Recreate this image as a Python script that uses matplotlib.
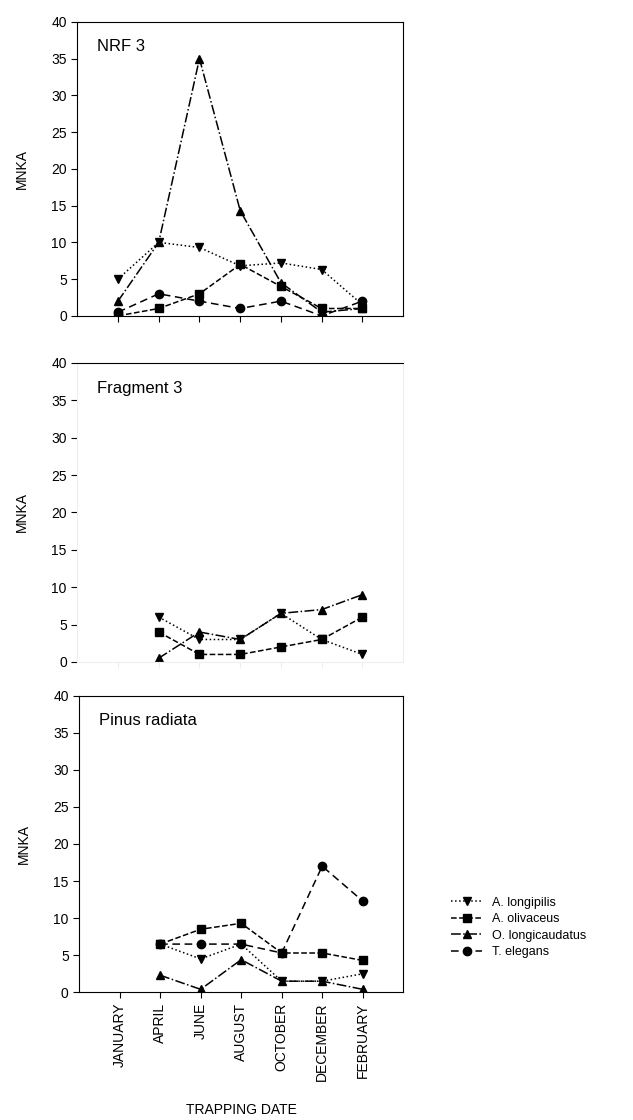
import numpy as np
import matplotlib
matplotlib.use("Agg")
import matplotlib.pyplot as plt

plt.rcParams['font.family'] = ['Liberation Sans', 'DejaVu Sans']

months = ["JANUARY", "APRIL", "JUNE", "AUGUST", "OCTOBER", "DECEMBER", "FEBRUARY"]
species = ["A. longipilis", "A. olivaceus", "O. longicaudatus", "T. elegans"]
nan = np.nan

# NRF 3
lon_nrf = [5, 10, 9.3, 6.8, 7.2, 6.3, 1.5]
oli_nrf = [0, 1, 3, 7, 4, 1, 1]
lcd_nrf = [2, 10, 35, 14.3, 4.5, 0.5, 1]
ele_nrf = [0.5, 3, 2, 1, 2, 0, 2]

# Fragment 3
lon_fr = [nan, 6, 3, 3, 6.5, 3, 1]
oli_fr = [nan, 4, 1, 1, 2, 3, 6]
lcd_fr = [nan, 0.5, 4, 3, 6.5, 7, 9]
ele_fr = [nan, nan, nan, nan, nan, nan, nan]

# Pinus radiata
lon_pr = [nan, 6.5, 4.5, 6.5, 1.5, 1.5, 2.5]
oli_pr = [nan, 6.5, 8.5, 9.3, 5.3, 5.3, 4.3]
lcd_pr = [nan, 2.3, 0.4, 4.4, 1.5, 1.5, 0.4]
ele_pr = [nan, 6.5, 6.5, 6.5, 5.3, 17, 12.3]

styles = [
    dict(marker="v", linestyle=":"),
    dict(marker="s", linestyle="--"),
    dict(marker="^", linestyle="-."),
    dict(marker="o", linestyle=(0, (5, 3))),
]

panels = [
    ("NRF 3", [lon_nrf, oli_nrf, lcd_nrf, ele_nrf], [0.122, 0.718, 0.515, 0.2625]),
    ("Fragment 3", [lon_fr, oli_fr, lcd_fr, ele_fr], [0.122, 0.409, 0.515, 0.267]),
    ("Pinus radiata", [lon_pr, oli_pr, lcd_pr, ele_pr], [0.125, 0.114, 0.512, 0.265]),
]

fig = plt.figure(figsize=(6.33, 11.2), dpi=100)
x = np.arange(len(months))
handles = []
for i, (title, series, rect) in enumerate(panels):
    ax = fig.add_axes(rect)
    for j, vals in enumerate(series):
        h, = ax.plot(x, vals, color="black", lw=1.1, ms=6, **styles[j], label=species[j])
        if i == 0:
            handles.append(h)
    ax.set_xlim(-1, 7)
    ax.set_ylim(0, 40)
    ax.set_yticks(np.arange(0, 41, 5))
    ax.set_xticks(x)
    ax.tick_params(labelsize=10, length=4, direction="out")
    ax.set_ylabel("MNKA", fontsize=10, labelpad=16)
    ax.text(0.06, 0.9, title, transform=ax.transAxes, fontsize=12)
    if i < 2:
        ax.set_xticklabels([])
    else:
        ax.set_xticklabels(months, rotation=90, fontsize=10)
        ax.set_xlabel("TRAPPING DATE", fontsize=10, labelpad=16)
    if i == 1:
        for s in ["left", "right", "bottom"]:
            ax.spines[s].set_color("#eeeeee")
        ax.tick_params(axis="x", colors="#eeeeee", labelcolor="black")

fig.legend(handles=handles, loc="center left", bbox_to_anchor=(0.695, 0.172),
           frameon=False, fontsize=9, handlelength=2.5, labelspacing=0.35)

fig.savefig("out.png", dpi=100)
